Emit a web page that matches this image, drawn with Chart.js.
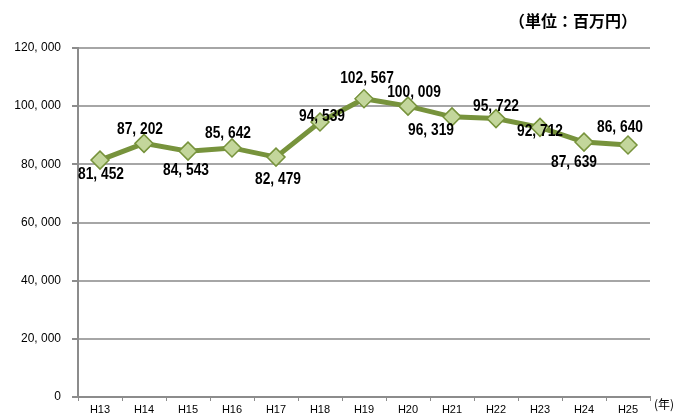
<!DOCTYPE html>
<html>
<head>
<meta charset="utf-8">
<script src="https://cdn.jsdelivr.net/npm/chart.js@4"></script>
<style>
  html, body { margin: 0; padding: 0; background: #fff; }
  #wrap { position: relative; width: 693px; height: 416px; }
  .note { position: absolute; font-family: "Noto Sans CJK JP", sans-serif; color: #000; white-space: nowrap; }
</style>
</head>
<body>
<div id="wrap">
  <canvas id="chart" width="693" height="416"></canvas>
  <div class="note" style="left:509px; top:8px; font-size:16px; font-weight:bold;">（単位：百万円）</div>
  <div class="note" style="left:654px; top:395px; font-size:12px;">(年)</div>
</div>
<script>
// 年度と金額（百万円）
const years = ['H13', 'H14', 'H15', 'H16', 'H17', 'H18', 'H19', 'H20', 'H21', 'H22', 'H23', 'H24', 'H25'];
const amounts = [81452, 87202, 84543, 85642, 82479, 94539, 102567, 100009, 96319, 95722, 92712, 87639, 86640];
const yTicks = [0, 20000, 40000, 60000, 80000, 100000, 120000];
// label offsets from each point (px), as placed in the original
const labelDx = [1, -4, -2, -4, 2, 2, 3, 6, -21, 0, 0, -10, -8];
const labelDy = [14, -14, 19, -14, 22, -5, -20, -14, 14, -12, 4, 20, -17];

const FONT = '"Liberation Sans", Arial, sans-serif';

function fmt(v) {
    return v.toLocaleString('en-US').replace(/,/g, ', ');
}

const valueLabels = {
    id: 'valueLabels',
    afterDatasetsDraw(chart) {
        const ctx = chart.ctx;
        const meta = chart.getDatasetMeta(0);
        meta.data.forEach(function (pt, i) {
            ctx.save();
            ctx.translate(pt.x + labelDx[i], pt.y + labelDy[i]);
            ctx.scale(0.86, 1);
            ctx.font = 'bold 16px ' + FONT;
            ctx.fillStyle = '#000';
            ctx.textAlign = 'center';
            ctx.textBaseline = 'middle';
            ctx.fillText(fmt(amounts[i]), 0, 0);
            ctx.restore();
        });
    }
};

new Chart(document.getElementById('chart'), {
    type: 'line',
    data: {
        labels: years,
        datasets: [{
            data: amounts,
            borderColor: '#77933C',
            borderWidth: 5,
            backgroundColor: '#C3D69B',
            pointStyle: 'rectRot',
            pointRadius: 9,
            pointHoverRadius: 9,
            pointBorderColor: '#77933C',
            pointBorderWidth: 1.5,
            pointBackgroundColor: '#C3D69B',
            tension: 0
        }]
    },
    options: {
        responsive: false,
        animation: false,
        layout: { padding: { top: 48, right: 43, left: 0, bottom: 0 } },
        plugins: { legend: { display: false }, tooltip: { enabled: false } },
        scales: {
            x: {
                offset: true,
                afterFit: function (s) { s.height = 19; },
                grid: { display: true, drawOnChartArea: false, offset: true, tickLength: 4, color: '#8c8c8c', lineWidth: 1 },
                border: { color: '#8c8c8c', width: 2 },
                ticks: { color: '#000', padding: 2, font: { family: FONT, size: 11 } }
            },
            y: {
                min: 0,
                max: 120000,
                afterFit: function (s) { s.width = 78; },
                afterBuildTicks: function (s) { s.ticks = yTicks.map(v => ({ value: v })); },
                grid: { color: '#a6a6a6', lineWidth: 2, tickLength: 6, tickColor: '#8c8c8c' },
                border: { color: '#8c8c8c', width: 2 },
                ticks: {
                    color: '#000',
                    padding: 11,
                    font: { family: FONT, size: 12 },
                    callback: function (v) { return fmt(v); }
                }
            }
        }
    },
    plugins: [valueLabels]
});
</script>
</body>
</html>
